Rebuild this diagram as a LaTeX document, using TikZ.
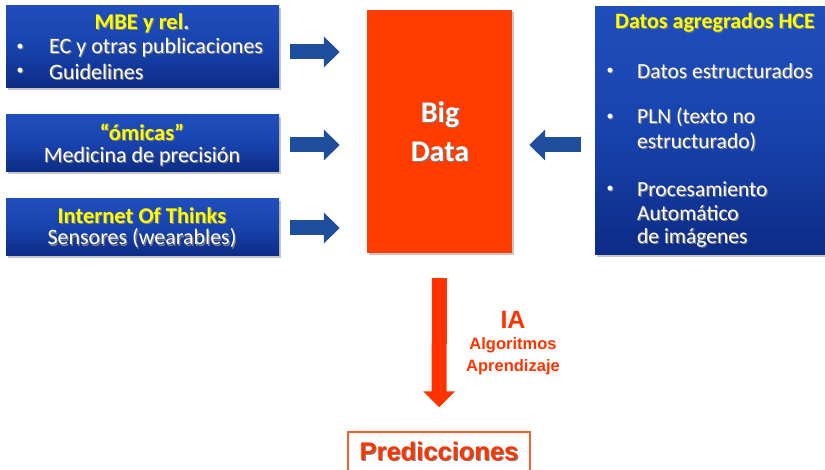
\documentclass[tikz,border=0pt]{standalone}
\usepackage{fontspec}
\setmainfont{Carlito}
\newfontfamily\arialfont{Liberation Sans}
\usetikzlibrary{arrows.meta,shadows,calc}

\definecolor{boxtop}{HTML}{1F4EBC}
\definecolor{boxmid}{HTML}{1843AD}
\definecolor{boxbot}{HTML}{0C2B85}
\definecolor{bigred}{HTML}{FF3C00}
\definecolor{arrowblue}{HTML}{1F4E9C}
\definecolor{iared}{HTML}{FF3300}
\definecolor{predborder}{HTML}{F4612A}
\definecolor{titleyellow}{HTML}{FFFF00}

% text with a small dark drop shadow: #1 colour, #2 text
\newcommand\shd[2]{\makebox[0pt][l]{\hspace{1.1pt}\raisebox{-1.1pt}{\color{black!50}#2}}\textcolor{#1}{#2}}
% yellow title ending in a white full stop
\newcommand\shdtitle[1]{\makebox[0pt][l]{\hspace{1.1pt}\raisebox{-1.1pt}{\color{black!50}#1.}}\textcolor{titleyellow}{#1}\textcolor{white}{.}}

\tikzset{
  bluebox/.style={rectangle, draw=none, inner sep=0pt,
    top color=boxtop, bottom color=boxbot, middle color=boxmid,
    drop shadow={shadow xshift=2pt, shadow yshift=-2pt, opacity=0.45}},
  bigbox/.style={rectangle, draw=none, inner sep=0pt, fill=bigred,
    drop shadow={shadow xshift=2pt, shadow yshift=-2pt, opacity=0.45}},
  boxtxt/.style={inner sep=0pt, font=\fontsize{22}{26}\selectfont},
  boxtitle/.style={inner sep=0pt, font=\fontsize{22.5}{26}\selectfont\bfseries},
  bullet/.style={inner sep=0pt, anchor=center, font=\fontsize{14}{16}\selectfont},
  hcetxt/.style={inner sep=0pt, font=\fontsize{21.5}{26}\selectfont, anchor=west},
  fatarrow/.style={draw=arrowblue, line width=15pt,
    -{Triangle[length=16pt, width=30pt]}},
  redarrow/.style={draw=iared, line width=15pt,
    -{Triangle[length=16pt, width=31pt]}},
  redlabel/.style={inner sep=0pt, text=iared},
}

\begin{document}
\begin{tikzpicture}[x=1pt,y=-1pt]
\useasboundingbox (0,0) rectangle (825,470);
\clip (0,0) rectangle (825,470);

% source boxes on the left
\node[bluebox, minimum width=273pt, minimum height=82pt] (mbe) at (142.5,47) {};
\node[bluebox, minimum width=273pt, minimum height=57pt] (omicas) at (142.5,143.5) {};
\node[bluebox, minimum width=273pt, minimum height=57pt] (iot) at (142.5,227.5) {};

% central store
\node[bigbox, minimum width=145pt, minimum height=243pt] (big) at (439.5,131.5) {};

% EHR box on the right
\node[bluebox, minimum width=236pt, minimum height=248pt] (hce) at (713,131) {};

% texts of the left boxes
\node[boxtitle] (mbeT) at (142,24) {\shdtitle{MBE y rel}};
\node[bullet] (mbeB1) at (20,48) {\shd{white}{•}};
\node[boxtxt, anchor=west] (mbeL1) at (49,48) {\shd{white}{EC y otras publicaciones}};
\node[bullet] (mbeB2) at (20,72) {\shd{white}{•}};
\node[boxtxt, anchor=west] (mbeL2) at (49,72) {\shd{white}{Guidelines}};

\node[boxtitle] (omT) at (142,133) {\shd{titleyellow}{“ómicas”}};
\node[boxtxt] (omL) at (142,157) {\shd{white}{Medicina de precisión}};

\node[boxtitle] (iotT) at (142,216) {\shd{titleyellow}{Internet Of Thinks}};
\node[boxtxt] (iotL) at (142,239) {\shd{white}{Sensores (wearables)}};

% text of the central box
\node[inner sep=0pt, font=\fontsize{30}{36}\selectfont\bfseries] (bigT1) at (440,115) {\shd{white}{Big}};
\node[inner sep=0pt, font=\fontsize{30}{36}\selectfont\bfseries] (bigT2) at (440,152) {\shd{white}{Data}};

% texts of the EHR box
\node[inner sep=0pt, font=\fontsize{22}{26}\selectfont\bfseries] (hceT) at (715,23)
  {\shd{titleyellow}{Datos agregrados HCE}};
\node[bullet] (hB1) at (610,72) {\shd{white}{•}};
\node[hcetxt] (hL1) at (637,72) {\shd{white}{Datos estructurados}};
\node[bullet] (hB2) at (610,118) {\shd{white}{•}};
\node[hcetxt] (hL2) at (637,118) {\shd{white}{PLN (texto no}};
\node[hcetxt] (hL3) at (637,143) {\shd{white}{estructurado)}};
\node[bullet] (hB3) at (610,190) {\shd{white}{•}};
\node[hcetxt] (hL4) at (637,190) {\shd{white}{Procesamiento}};
\node[hcetxt] (hL5) at (637,214) {\shd{white}{Automático}};
\node[hcetxt] (hL6) at (637,238) {\shd{white}{de imágenes}};

% flows into the central store
\coordinate (a1s) at ($(mbe.east)+(0,5)$);
\coordinate (a1e) at (a1s -| big.west);
\draw[fatarrow, shorten <=11pt, shorten >=27pt] (a1s) -- (a1e);
\coordinate (a2s) at ($(omicas.east)+(0,1.5)$);
\coordinate (a2e) at (a2s -| big.west);
\draw[fatarrow, shorten <=11pt, shorten >=27pt] (a2s) -- (a2e);
\coordinate (a3s) at ($(iot.east)+(0,0.5)$);
\coordinate (a3e) at (a3s -| big.west);
\draw[fatarrow, shorten <=11pt, shorten >=27pt] (a3s) -- (a3e);
\coordinate (a4s) at ($(hce.west)+(0,14)$);
\coordinate (a4e) at (a4s -| big.east);
\draw[fatarrow, shorten <=14pt, shorten >=17pt] (a4s) -- (a4e);

% result
\node[draw=predborder, line width=1.3pt, fill=white, inner sep=0pt,
  minimum width=182pt, minimum height=42pt] (pred) at (439,453) {};
\node[redlabel, font=\arialfont\bfseries\fontsize{25.5}{30}\selectfont] (predT) at (439,452)
  {\shd{iared}{Predicciones}};

\draw[redarrow, shorten <=25pt, shorten >=24pt] (big.south) -- (pred.north);

% label of the downward flow
\node[redlabel, font=\arialfont\bfseries\fontsize{25}{30}\selectfont] (ia) at (513,320) {IA};
\node[redlabel, font=\arialfont\bfseries\fontsize{16.5}{20}\selectfont] (alg) at (513,345) {Algoritmos};
\node[redlabel, font=\arialfont\bfseries\fontsize{16.5}{20}\selectfont] (apr) at (513,367) {Aprendizaje};
\end{tikzpicture}
\end{document}
